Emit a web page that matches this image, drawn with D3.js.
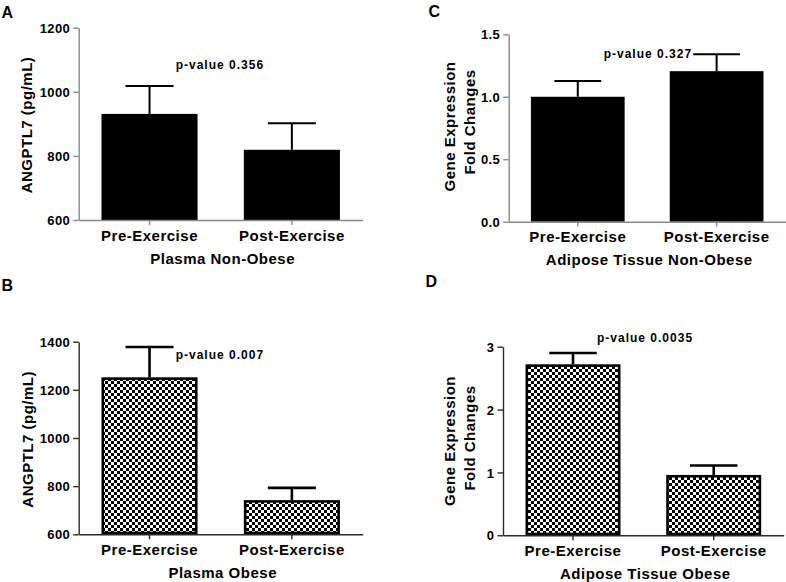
<!DOCTYPE html>
<html>
<head>
<meta charset="utf-8">
<script src="https://cdn.jsdelivr.net/npm/d3@7"></script>
<style>
  html, body { margin: 0; padding: 0; background: #fff; }
  svg { display: block; font-family: "Liberation Sans", Arial, sans-serif; font-weight: bold; }
</style>
</head>
<body>
<svg id="chart" width="786" height="582"></svg>
<script>
// ---------------- DATA ----------------
const categories = ["Pre-Exercise", "Post-Exercise"];

const plasmaNonObeseMeans = [931, 819];
const plasmaNonObeseSEM   = [87, 83];
const plasmaNonObeseTicks = [600, 800, 1000, 1200];

const plasmaObeseMeans = [1252, 742];
const plasmaObeseSEM   = [126, 51];
const plasmaObeseTicks = [600, 800, 1000, 1200, 1400];

const adiposeNonObeseMeans = [1.0, 1.205];
const adiposeNonObeseSEM   = [0.127, 0.136];
const adiposeNonObeseTicks = [0, 0.5, 1.0, 1.5];

const adiposeObeseMeans = [2.72, 0.96];
const adiposeObeseSEM   = [0.18, 0.15];
const adiposeObeseTicks = [0, 1, 2, 3];

const panelLetters = ["A", "B", "C", "D"];
const pValueLabels = ["p-value 0.356", "p-value 0.007", "p-value 0.327", "p-value 0.0035"];
const xTitles = ["Plasma Non-Obese", "Plasma Obese", "Adipose Tissue Non-Obese", "Adipose Tissue Obese"];
const plasmaYTitle = ["ANGPTL7 (pg/mL)"];
const adiposeYTitle = ["Gene Expression", "Fold Changes"];

// ---------------- LAYOUT ----------------
const svg = d3.select("#chart");
const defs = svg.append("defs");
const pat = defs.append("pattern")
  .attr("id", "checker").attr("patternUnits", "userSpaceOnUse")
  .attr("width", 6).attr("height", 6);
pat.append("rect").attr("width", 6).attr("height", 6).attr("fill", "#fff");
pat.append("rect").attr("x", 0).attr("y", 0).attr("width", 3).attr("height", 3).attr("fill", "#000");
pat.append("rect").attr("x", 3).attr("y", 3).attr("width", 3).attr("height", 3).attr("fill", "#000");

const panels = [
  { letter: panelLetters[0], letterPos: [1.5, 17.5],
    means: plasmaNonObeseMeans, sem: plasmaNonObeseSEM, ticks: plasmaNonObeseTicks, fmt: d3.format("d"),
    domain: [600, 1200], xr: [78.7, 362.7], yr: [220, 27.7],
    obese: false, pval: pValueLabels[0], pPos: [175.7, 69],
    xTitle: xTitles[0], yTitle: plasmaYTitle, yTitleX: [31.5], yTitleY: [125] },
  { letter: panelLetters[1], letterPos: [1.5, 291],
    means: plasmaObeseMeans, sem: plasmaObeseSEM, ticks: plasmaObeseTicks, fmt: d3.format("d"),
    domain: [600, 1400], xr: [78.7, 362.7], yr: [534.3, 341.7],
    obese: true, pval: pValueLabels[1], pPos: [175.7, 358.5],
    xTitle: xTitles[1], yTitle: plasmaYTitle, yTitleX: [32.5], yTitleY: [439.3] },
  { letter: panelLetters[2], letterPos: [428.5, 17],
    means: adiposeNonObeseMeans, sem: adiposeNonObeseSEM, ticks: adiposeNonObeseTicks, fmt: d3.format(".1f"),
    domain: [0, 1.5], xr: [508.7, 785.7], yr: [221.7, 34.3],
    obese: false, pval: pValueLabels[2], pPos: [603.7, 58.3],
    xTitle: xTitles[2], yTitle: adiposeYTitle, yTitleX: [454.5, 474.5], yTitleY: [126.5, 122] },
  { letter: panelLetters[3], letterPos: [425.5, 287],
    means: adiposeObeseMeans, sem: adiposeObeseSEM, ticks: adiposeObeseTicks, fmt: d3.format("d"),
    domain: [0, 3], xr: [503, 783.7], yr: [535.3, 346.7],
    obese: true, pval: pValueLabels[3], pPos: [597, 342],
    xTitle: xTitles[3], yTitle: adiposeYTitle, yTitleX: [454.5, 474.5], yTitleY: [441, 438] }
];

panels.forEach(p => {
  const g = svg.append("g");
  const x = d3.scaleBand().domain(categories).range(p.xr).paddingInner(0.325).paddingOuter(0.16);
  const y = d3.scaleLinear().domain(p.domain).range(p.yr);
  const rows = categories.map((c, i) => ({ c, m: p.means[i], e: p.sem[i] }));
  const axisColor = p.obese ? "#2a2a2a" : "#8a8a8a";
  const barStroke = p.obese ? 2.6 : 0;
  const errW = p.obese ? 2.6 : 2;

  // bars
  g.selectAll("rect.bar").data(rows).join("rect")
    .attr("class", "bar")
    .attr("x", d => x(d.c) + barStroke / 2)
    .attr("y", d => y(d.m) + barStroke / 2)
    .attr("width", x.bandwidth() - barStroke)
    .attr("height", d => y(p.domain[0]) - y(d.m) - barStroke)
    .attr("fill", p.obese ? "url(#checker)" : "#000")
    .attr("stroke", p.obese ? "#000" : "none")
    .attr("stroke-width", barStroke);

  // error bars (upper only)
  const cap = x.bandwidth() * 0.25;
  g.selectAll("line.err").data(rows).join("line")
    .attr("x1", d => x(d.c) + x.bandwidth() / 2).attr("x2", d => x(d.c) + x.bandwidth() / 2)
    .attr("y1", d => y(d.m)).attr("y2", d => y(d.m + d.e))
    .attr("stroke", "#000").attr("stroke-width", errW);
  g.selectAll("line.cap").data(rows).join("line")
    .attr("x1", d => x(d.c) + x.bandwidth() / 2 - cap).attr("x2", d => x(d.c) + x.bandwidth() / 2 + cap)
    .attr("y1", d => y(d.m + d.e)).attr("y2", d => y(d.m + d.e))
    .attr("stroke", "#000").attr("stroke-width", errW);

  // axes
  const yAxis = d3.axisLeft(y).tickValues(p.ticks).tickFormat(p.fmt).tickSize(5.5).tickSizeOuter(0).tickPadding(3);
  const xAxis = d3.axisBottom(x).tickSize(5).tickSizeOuter(0).tickPadding(6);
  const ya = g.append("g").attr("transform", `translate(${p.xr[0]},0)`).call(yAxis);
  const xa = g.append("g").attr("transform", `translate(0,${p.yr[0]})`).call(xAxis);
  [ya, xa].forEach(a => {
    a.select(".domain").attr("stroke", axisColor).attr("stroke-width", 1.4);
    a.selectAll(".tick line").attr("stroke", axisColor).attr("stroke-width", 1.4);
    a.attr("font-family", null).attr("font-size", null);
  });
  ya.selectAll(".tick text").attr("fill", "#000").style("font-size", "13px").style("letter-spacing", "0.4px").attr("dy", "0.36em");
  xa.selectAll(".tick text").attr("fill", "#000").style("font-size", "15px").style("letter-spacing", "0.5px")
    .attr("y", null).attr("dy", null).attr("y", 20.5);

  // x title
  g.append("text").attr("x", (p.xr[0] + p.xr[1]) / 2 + 2).attr("y", p.yr[0] + 43.5)
    .attr("text-anchor", "middle").style("font-size", "15px").style("letter-spacing", "0.5px").text(p.xTitle);

  // y title
  p.yTitle.forEach((t, i) => {
    g.append("text")
      .attr("transform", `translate(${p.yTitleX[i]},${p.yTitleY[i]}) rotate(-90)`)
      .attr("text-anchor", "middle").style("font-size", "15px").style("letter-spacing", "0.5px").text(t);
  });

  // p-value
  g.append("text").attr("x", p.pPos[0]).attr("y", p.pPos[1])
    .style("font-size", "12px").style("letter-spacing", "1px").text(p.pval);

  // panel letter
  g.append("text").attr("x", p.letterPos[0]).attr("y", p.letterPos[1])
    .style("font-size", "16px").text(p.letter);
});
</script>
</body>
</html>
